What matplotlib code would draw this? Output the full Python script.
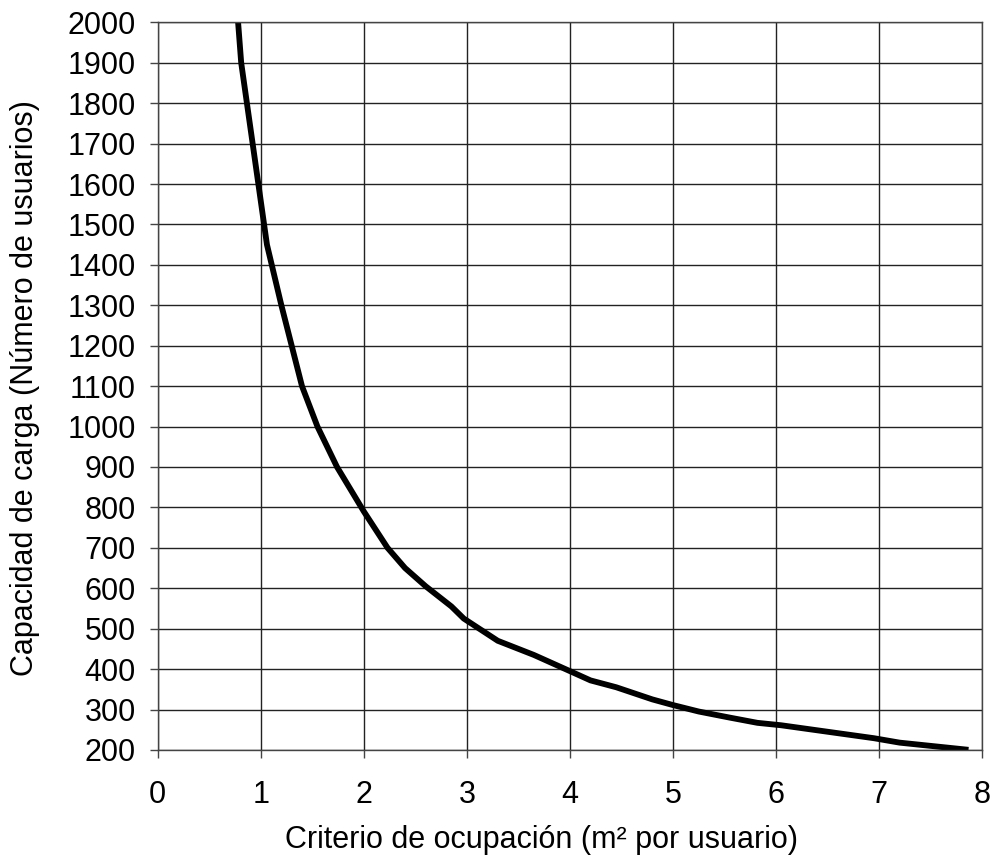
import matplotlib
matplotlib.use("Agg")
import matplotlib.pyplot as plt

# criterio de ocupacion (m2 por usuario) vs capacidad de carga
criterio = [0.78, 0.81, 1.06, 1.20, 1.40, 1.55, 1.74, 2.00, 2.23, 2.40, 2.60,
            2.85, 2.97, 3.30, 3.65, 4.00, 4.20, 4.45, 4.80, 5.00, 5.25, 5.55,
            5.82, 6.05, 6.50, 6.95, 7.20, 7.84]
capacidad = [2000, 1900, 1450, 1300, 1100, 1000, 900, 790, 700, 650, 605,
             555, 525, 470, 435, 395, 372, 355, 325, 311, 295, 280,
             267, 261, 245, 229, 218, 201]

x_ticks = list(range(0, 9))
y_ticks = list(range(200, 2001, 100))

plt.rcParams['font.family'] = ['Liberation Sans', 'DejaVu Sans']

fig = plt.figure(figsize=(9.92, 8.6), dpi=100)
ax = fig.add_axes([0.159, 0.128, 0.831, 0.846])

ax.plot(criterio, capacidad, color='black', linewidth=4.2, solid_joinstyle='miter')

ax.set_xlim(0, 8)
ax.set_ylim(200, 2000)
ax.set_xticks(x_ticks)
ax.set_yticks(y_ticks)
ax.grid(True, color='#222222', linewidth=1.0)
ax.set_axisbelow(True)
for side in ax.spines.values():
    side.set_color('#444444')
    side.set_linewidth(1.0)
ax.tick_params(direction='out', length=5.8, width=1, color='#444444', labelsize=22)
ax.tick_params(axis='y', pad=10)
ax.tick_params(axis='x', pad=16)

ax.set_xlabel('Criterio de ocupación (m² por usuario)', fontsize=22, va='center')
ax.set_ylabel('Capacidad de carga (Número de usuarios)', fontsize=22, va='center')
ax.xaxis.set_label_coords(0.465, -0.124)
ax.yaxis.set_label_coords(-0.161, 0.497)

fig.savefig('out.png', dpi=100)
